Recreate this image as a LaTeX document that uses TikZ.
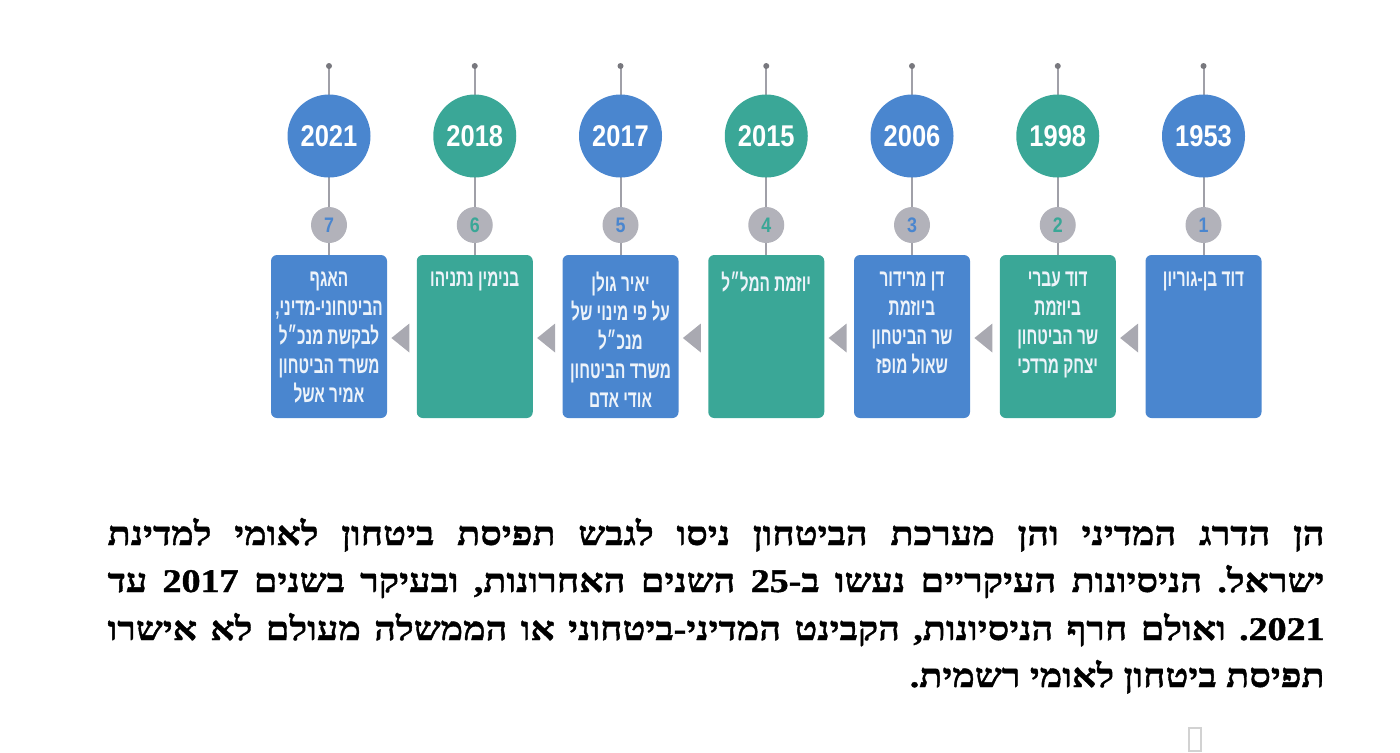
\documentclass[tikz,border=0pt]{standalone}
\usepackage{fontspec}
\usepackage{tikz}
\usetikzlibrary{calc}
\TeXXeTstate=1
\newfontfamily\parafont[Script=Hebrew,FakeStretch=1.15,FakeBold=1.2]{Liberation Serif}
\newfontfamily\boxfont[Script=Hebrew,FakeStretch=0.64]{Liberation Sans}
\newfontfamily\yearfont[FakeStretch=0.85]{Liberation Sans}
\definecolor{tlblue}{HTML}{4A86CF}
\definecolor{tlteal}{HTML}{3AA797}
\definecolor{tlgray}{HTML}{A9A9B1}
\definecolor{numgray}{HTML}{B2B2BA}
\definecolor{stemgray}{HTML}{A0A0A8}
\newcommand{\heb}[1]{\beginR #1\endR}
\tikzset{
  yearnode/.style = {circle, minimum size=41.5pt, inner sep=0pt, text=white,
    font=\yearfont\bfseries\fontsize{15}{15}\selectfont},
  numnode/.style = {circle, minimum size=18pt, inner sep=0pt, fill=numgray,
    font=\yearfont\bfseries\fontsize{10.5}{10.5}\selectfont},
  boxnode/.style = {rounded corners=3pt, minimum width=58pt, minimum height=81.5pt,
    inner sep=0pt},
  boxtext/.style = {align=center, anchor=north, inner sep=0pt, text=white!90!tlblue,
    font=\boxfont\bfseries\fontsize{12}{14.5}\selectfont},
  paraline/.style = {anchor=base east, inner sep=0pt,
    font=\parafont\bfseries\frenchspacing\fontsize{16.5}{16.5}\selectfont},
  stem/.style = {stemgray, line width=1pt},
  tip/.style = {fill=tlgray}
}

\begin{document}
\begin{tikzpicture}[x=0.5pt,y=-0.5pt]
\useasboundingbox (0,0) rectangle (1400,752);

% timeline columns, 1 on the right
\foreach \i/\yr/\col in {1/1953/tlblue,2/1998/tlteal,3/2006/tlblue,4/2015/tlteal,
                         5/2017/tlblue,6/2018/tlteal,7/2021/tlblue}{
  \pgfmathsetmacro\cx{1203.5-(\i-1)*145.75}
  \coordinate (d\i) at (\cx,66);
  \node[boxnode, fill=\col] (b\i) at (\cx,336.5) {};
  \draw[stem] (d\i) -- (b\i.north);
  \fill[stemgray!75!black] (d\i) circle (1.5pt);
  \node[yearnode, fill=\col] (y\i) at (\cx,136) {\yr};
  \node[numnode, text=\col] (n\i) at (\cx,225) {\i};
}

% arrows between boxes
\foreach \i [evaluate=\i as \j using int(\i+1)] in {1,...,6}
  \fill[tip] ($(b\j.east)+(4,1.5)$) -- ($(b\i.west)+(-7,-13)$) -- ($(b\i.west)+(-7,16)$) -- cycle;

% box texts
\node[boxtext] (t1) at ($(b1.north)+(0,17)$) {\heb{דוד בן-גוריון}};
\node[boxtext] (t2) at ($(b2.north)+(0,17)$) {\heb{דוד עברי}\\\heb{ביוזמת}\\\heb{שר הביטחון}\\\heb{יצחק מרדכי}};
\node[boxtext] (t3) at ($(b3.north)+(0,17)$) {\heb{דן מרידור}\\\heb{ביוזמת}\\\heb{שר הביטחון}\\\heb{שאול מופז}};
\node[boxtext] (t4) at ($(b4.north)+(0,17)$) {\heb{יוזמת המל״ל}};
\node[boxtext] (t5) at ($(b5.north)+(0,17)$) {\heb{יאיר גולן}\\\heb{על פי מינוי של}\\\heb{מנכ״ל}\\\heb{משרד הביטחון}\\\heb{אודי אדם}};
\node[boxtext] (t6) at ($(b6.north)+(0,17)$) {\heb{בנימין נתניהו}};
\node[boxtext] (t7) at ($(b7.north)+(0,17)$) {\heb{האגף}\\\heb{הביטחוני-מדיני,}\\\heb{לבקשת מנכ״ל}\\\heb{משרד הביטחון}\\\heb{אמיר אשל}};

% paragraph
\node[paraline] (p1) at (1325,545) {\makebox[608.5pt][s]{\heb{הן הדרג המדיני והן מערכת הביטחון ניסו לגבש תפיסת ביטחון לאומי למדינת}}};
\node[paraline] (p2) at (1325,592) {\makebox[608.5pt][s]{\heb{ישראל. הניסיונות העיקריים נעשו ב-25 השנים האחרונות, ובעיקר בשנים 2017 עד}}};
\node[paraline] (p3) at (1325,640) {\makebox[608.5pt][s]{\heb{2021. ואולם חרף הניסיונות, הקבינט המדיני-ביטחוני או הממשלה מעולם לא אישרו}}};
\node[paraline] (p4) at (1325,687) {\heb{תפיסת ביטחון לאומי רשמית.}};

\draw[gray!35, line width=0.6pt] (1189,728) rectangle (1201,751);
\end{tikzpicture}
\end{document}
